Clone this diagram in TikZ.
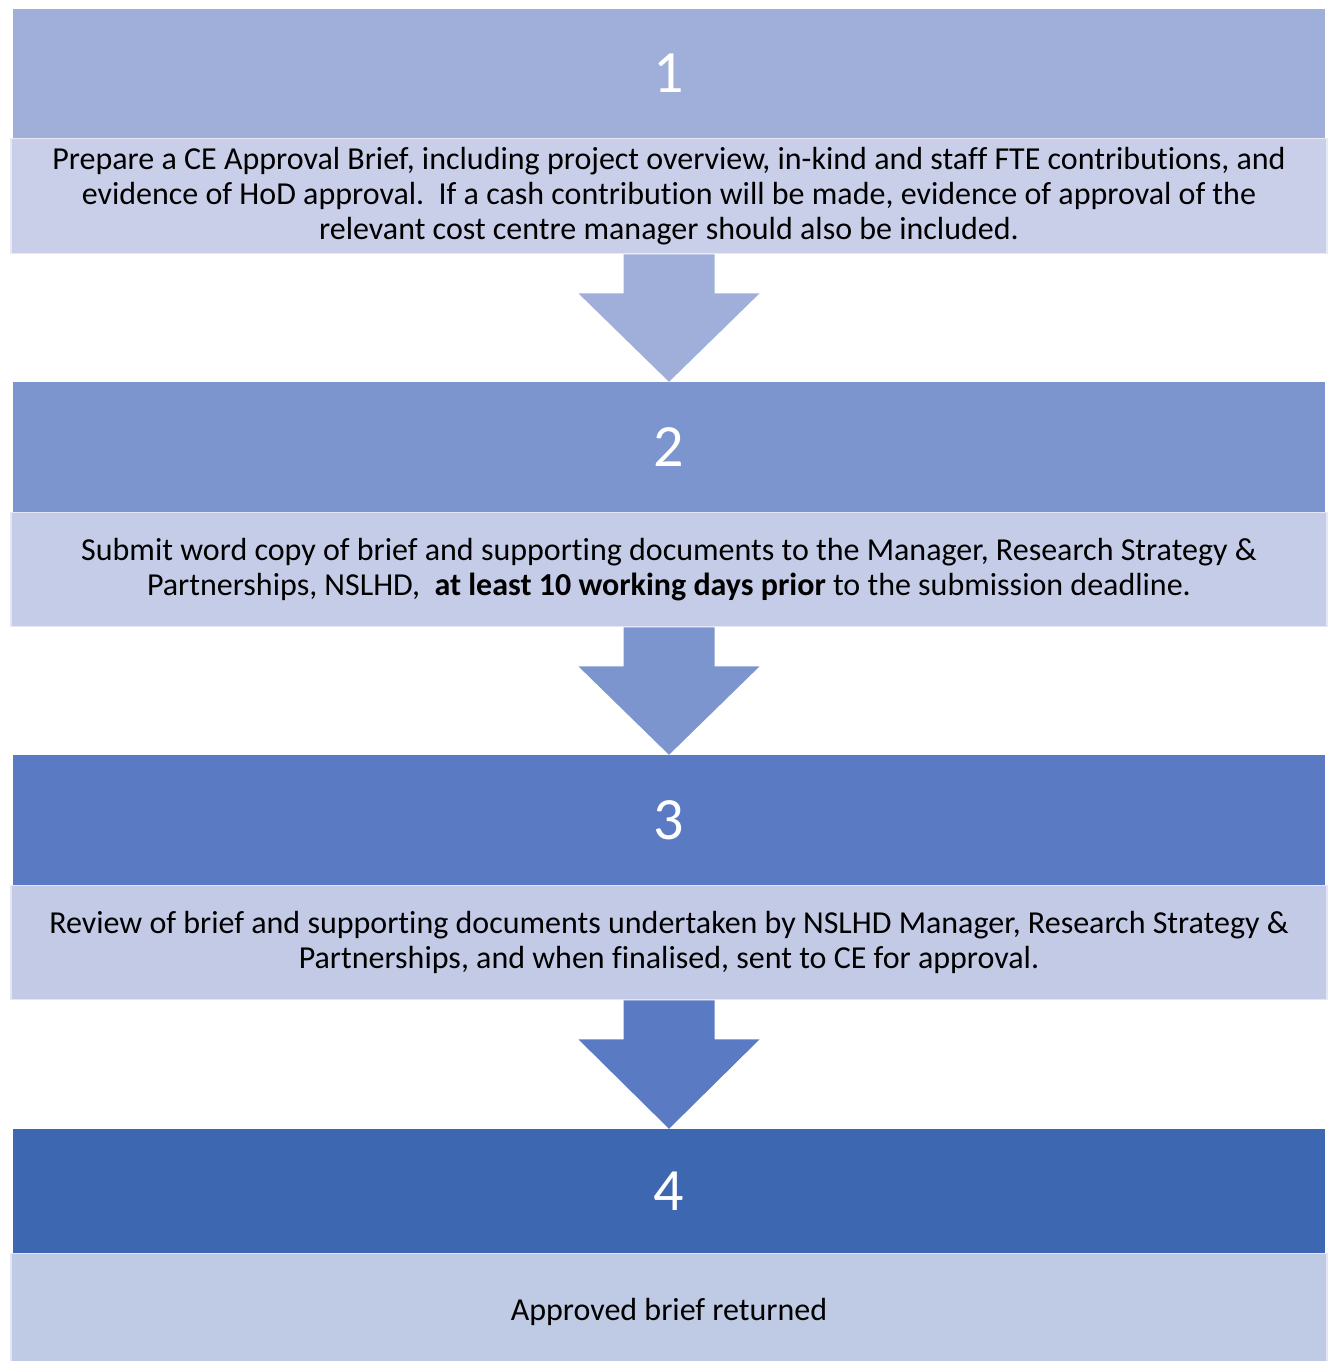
\documentclass[tikz,border=0pt]{standalone}
\usepackage{fontspec}
\setmainfont[Ligatures=NoCommon]{Carlito}
\usepackage{tikz}
\usetikzlibrary{positioning,calc}
\definecolor{headA}{RGB}{159,175,217}
\definecolor{headB}{RGB}{124,149,206}
\definecolor{headC}{RGB}{90,123,196}
\definecolor{headD}{RGB}{61,103,176}
\definecolor{bodyA}{RGB}{202,207,233}
\definecolor{bodyB}{RGB}{197,204,231}
\definecolor{bodyC}{RGB}{194,202,229}
\definecolor{bodyD}{RGB}{191,202,228}

% arrow between a text box and the next header
\newcommand{\flowarrow}[3]{%
  \fill[#3] ([xshift=-45.5pt]#1.south) -- ([xshift=-45.5pt,yshift=-39pt]#1.south)
    -- ([xshift=-90.5pt,yshift=-39pt]#1.south) -- (#2.north)
    -- ([xshift=90.5pt,yshift=-39pt]#1.south) -- ([xshift=45.5pt,yshift=-39pt]#1.south)
    -- ([xshift=45.5pt]#1.south) -- cycle;}

\begin{document}
\begin{tikzpicture}[
    x=1pt, y=-1pt,
    head/.style={rectangle, inner sep=0pt, minimum width=1312pt, text=white,
      font=\fontsize{60}{62}\selectfont},
    body/.style={rectangle, inner sep=0pt, minimum width=1316pt, draw=white!55!#1,
      line width=1.2pt, fill=#1, align=center, font=\fontsize{32}{35}\selectfont}
]
\useasboundingbox (0,0) rectangle (1332,1361);

% Step 1
\node[head, fill=headA, minimum height=129pt] (h1) at (669,73.5) {1};
\node[body=bodyA, minimum height=115pt, below=0pt of h1] (t1)
  {Prepare a CE Approval Brief, including project overview, in-kind and staff FTE contributions, and\\
   evidence of HoD approval.\ \ If a cash contribution will be made, evidence of approval of the\\
   relevant cost centre manager should also be included.};

% Step 2
\node[head, fill=headB, minimum height=130pt] (h2) at (669,447) {2};
\node[body=bodyB, minimum height=114pt, below=0pt of h2] (t2)
  {Submit word copy of brief and supporting documents to the Manager, Research Strategy \&\\
   Partnerships, NSLHD,\ \ \textbf{at least 10 working days prior} to the submission deadline.};

% Step 3
\node[head, fill=headC, minimum height=130pt] (h3) at (669,820) {3};
\node[body=bodyC, minimum height=114pt, below=0pt of h3] (t3)
  {Review of brief and supporting documents undertaken by NSLHD Manager, Research Strategy \&\\
   Partnerships, and when finalised, sent to CE for approval.};

% Step 4
\node[head, fill=headD, minimum height=124pt] (h4) at (669,1191) {4};
\node[body=bodyD, minimum height=108pt, below=0pt of h4] (t4)
  {\raisebox{-13pt}[0pt][0pt]{Approved brief returned}};

% Arrows
\flowarrow{t1}{h2}{headA}
\flowarrow{t2}{h3}{headB}
\flowarrow{t3}{h4}{headC}

\end{tikzpicture}
\end{document}
